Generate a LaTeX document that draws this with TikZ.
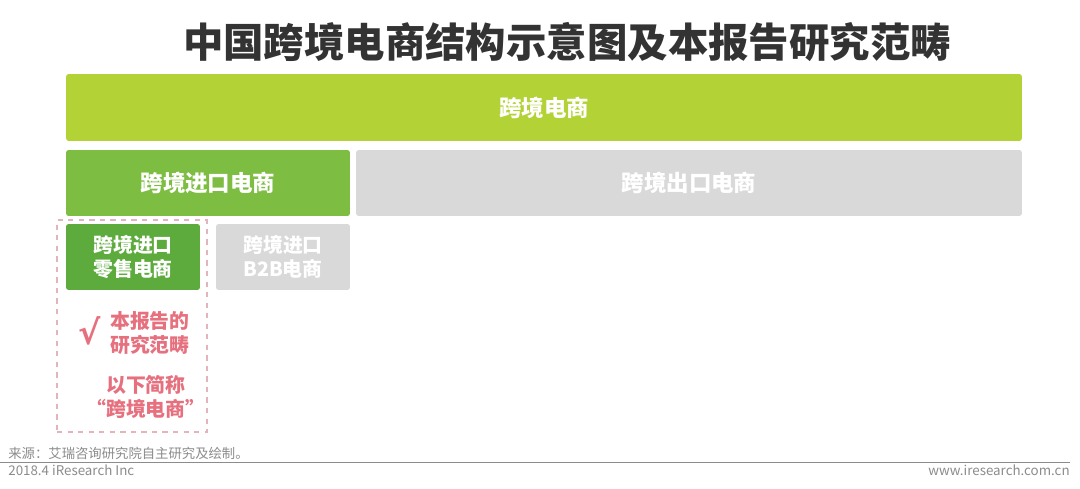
\documentclass[tikz,border=0pt]{standalone}
\usepackage{fontspec}
\newfontfamily\cjk{Noto Sans CJK SC}
\newfontfamily\symfont{DejaVu Sans}
\definecolor{limebar}{HTML}{B3D236}
\definecolor{importgreen}{HTML}{7DBD42}
\definecolor{retailgreen}{HTML}{5DAB3D}
\definecolor{boxgray}{HTML}{D9D9D9}
\definecolor{notepink}{HTML}{E6707E}
\definecolor{dashpink}{HTML}{E3B5BA}
\definecolor{footgray}{HTML}{8C8C8C}
\definecolor{titlegray}{HTML}{333333}
\tikzset{
  box/.style={rounded corners=1.5pt, inner sep=0pt, text=white, align=center,
    font=\cjk\bfseries\fontsize{12.8}{15}\selectfont},
  smallbox/.style={box, minimum width=2.68cm, minimum height=1.32cm,
    font=\cjk\bfseries\fontsize{11.3}{13.5}\selectfont},
  note/.style={text=notepink, align=center, inner sep=0pt,
    font=\cjk\bfseries\fontsize{11.3}{13.3}\selectfont},
  foot/.style={text=footgray, inner sep=0pt, font=\cjk\fontsize{7.6}{9}\selectfont}
}
\begin{document}
\begin{tikzpicture}[x=0.02cm, y=-0.02cm]
  \useasboundingbox[fill=white] (0,0) rectangle (1080,489);
  % title
  \node[text=titlegray, font=\cjk\bfseries\fontsize{23}{27}\selectfont] (title) at (567,42)
    {中国跨境电商结构示意图及本报告研究范畴};
  % top level
  \node[box, fill=limebar, minimum width=19.12cm, minimum height=1.34cm] (all) at (544,107.5) {跨境电商};
  % second level
  \node[box, fill=importgreen, minimum width=5.68cm, minimum height=1.32cm] (import) at (208,183) {跨境进口电商};
  \node[box, fill=boxgray, minimum width=13.32cm, minimum height=1.32cm] (export) at (689,183) {跨境出口电商};
  % third level
  \node[draw=dashpink, dashed, thick, minimum width=3cm, minimum height=4.24cm] (scope) at (132,326) {};
  \node[smallbox, fill=retailgreen] (retail) at (133,257) {跨境进口\\零售电商};
  \node[smallbox, fill=boxgray] (btob) at (283,257) {跨境进口\\B2B电商};
  % notes
  \begin{scope}
    \clip (76,314) rectangle (100.5,350);
    \node[note, font=\symfont\bfseries\fontsize{19}{22}\selectfont, anchor=west] (tick) at (78,331) {√};
  \end{scope}
  \node[note] (ours) at (150,333) {本报告的\\研究范畴};
  \node[note] (short) at (146,397) {以下简称\\“跨境电商”};
  % footer
  \node[foot, anchor=base west] (source) at (8,459) {来源：艾瑞咨询研究院自主研究及绘制。};
  \coordinate (rulel) at (0,462.5);
  \coordinate (ruler) at (1070,462.5);
  \draw[footgray, line width=0.6pt] (rulel) -- (ruler);
  \node[foot, anchor=base west] (date) at (8,476) {2018.4 iResearch Inc};
  \node[foot, anchor=base east] (web) at (1070,476) {www.iresearch.com.cn};
\end{tikzpicture}
\end{document}
